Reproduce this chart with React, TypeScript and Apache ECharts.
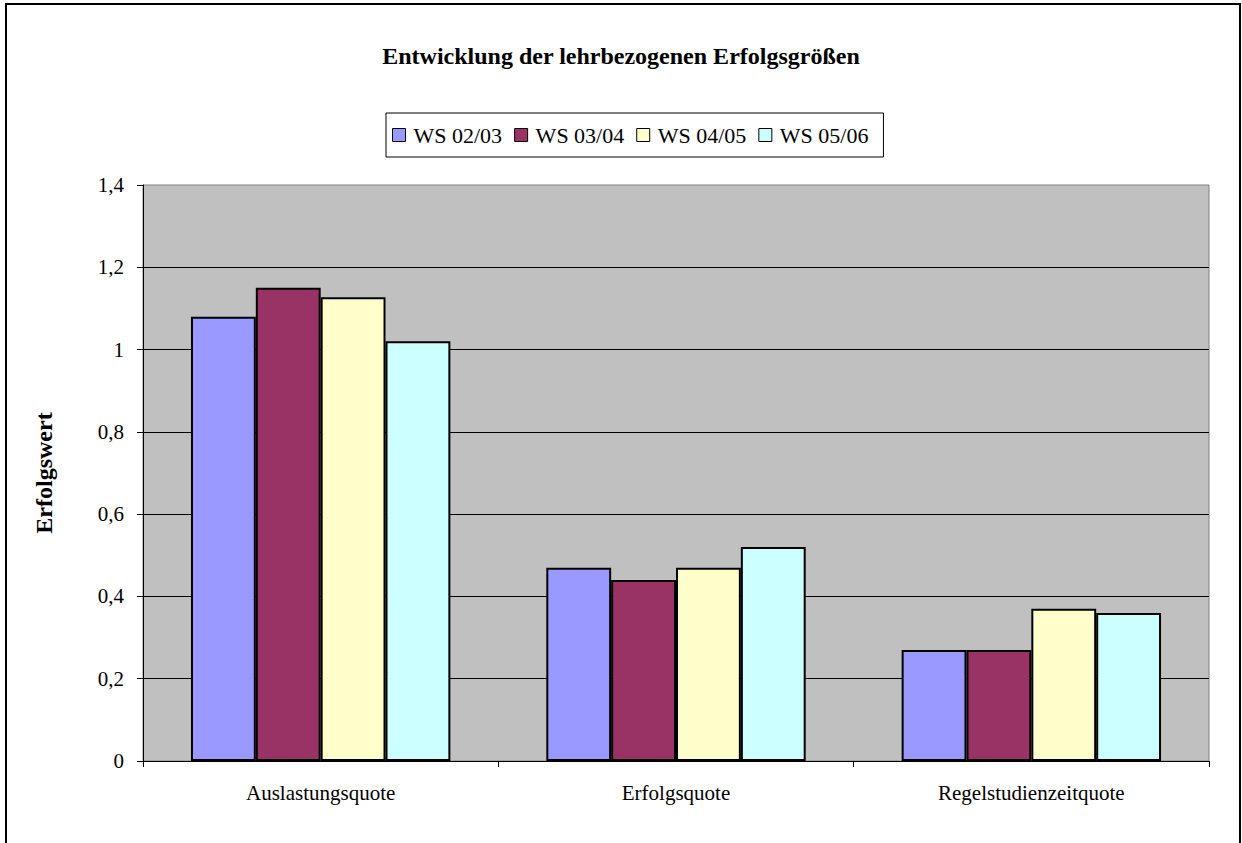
import React, { useEffect, useRef } from "react";
import * as echarts from "echarts";

const categories = ["Auslastungsquote", "Erfolgsquote", "Regelstudienzeitquote"];
const seriesNames = ["WS 02/03", "WS 03/04", "WS 04/05", "WS 05/06"];
const ws0203 = [1.08, 0.47, 0.27];
const ws0304 = [1.15, 0.44, 0.27];
const ws0405 = [1.127, 0.47, 0.37];
const ws0506 = [1.02, 0.52, 0.36];
const colors = ["#9999FF", "#993366", "#FFFFCC", "#CCFFFF"];
const yTicks = [0, 0.2, 0.4, 0.6, 0.8, 1, 1.2, 1.4];

const FONT = "Liberation Serif";

export default function App() {
  const ref = useRef<HTMLDivElement>(null);
  useEffect(() => {
    if (!ref.current) return;
    const chart = echarts.init(ref.current, undefined, { renderer: "svg" });
    const data = [ws0203, ws0304, ws0405, ws0506];
    chart.setOption({
      animation: false,
      backgroundColor: "#ffffff",
      textStyle: { fontFamily: FONT, color: "#000" },
      title: {
        text: "Entwicklung der lehrbezogenen Erfolgsgrößen",
        left: "center",
        top: 39,
        textStyle: { fontFamily: FONT, fontSize: 24, fontWeight: "bold", color: "#000" },
      },
      legend: {
        data: seriesNames,
        top: 113,
        left: 386,
        padding: [10, 15, 10, 6],
        borderColor: "#000",
        borderWidth: 1,
        itemWidth: 13,
        itemHeight: 13,
        itemGap: 12,
        icon: "rect",
        itemStyle: { borderColor: "#000", borderWidth: 1 },
        formatter: "{s|{name}}",
        textStyle: {
          fontFamily: FONT,
          fontSize: 22,
          lineHeight: 24,
          color: "#000",
          padding: [0, 0, 0, 3],
          rich: {
            s: { fontFamily: FONT, fontSize: 22, lineHeight: 24, color: "#000" },
          },
        },
      },
      graphic: [
        {
          type: "rect",
          shape: { x: 6, y: 4, width: 1234, height: 900 },
          style: { fill: "none", stroke: "#000", lineWidth: 2 },
          silent: true,
        },
      ],
      grid: {
        left: 143,
        right: 33,
        top: 185,
        bottom: 82,
        show: true,
        backgroundColor: "#C0C0C0",
        borderColor: "#808080",
        borderWidth: 1,
      },
      xAxis: {
        type: "category",
        data: categories,
        axisLine: { lineStyle: { color: "#000", width: 1 } },
        axisTick: { show: true, length: 6, lineStyle: { color: "#000" } },
        axisLabel: { fontFamily: FONT, fontSize: 21, color: "#000", margin: 21 },
      },
      yAxis: {
        type: "value",
        min: 0,
        max: yTicks[yTicks.length - 1],
        interval: 0.2,
        name: "Erfolgswert",
        nameLocation: "middle",
        nameRotate: 90,
        nameGap: 87,
        nameTextStyle: { fontFamily: FONT, fontSize: 24, fontWeight: "bold", color: "#000" },
        axisLine: { show: true, lineStyle: { color: "#000", width: 1 } },
        axisTick: { show: true, length: 6, lineStyle: { color: "#000" } },
        axisLabel: {
          fontFamily: FONT,
          fontSize: 21,
          color: "#000",
          margin: 19,
          formatter: (v: number) => String(Math.round(v * 10) / 10).replace(".", ","),
        },
        splitLine: { show: true, showMaxLine: false, lineStyle: { color: "#000", width: 1 } },
      },
      series: seriesNames.map((name, i) => ({
        name,
        type: "bar",
        data: data[i],
        barGap: "0%",
        barCategoryGap: "27%",
        itemStyle: { color: colors[i], borderColor: "#000", borderWidth: 2 },
      })),
    });
    return () => chart.dispose();
  }, []);
  return (
    <div
      ref={ref}
      style={{ position: "absolute", left: 0, top: 0, width: 1242, height: 843 }}
    />
  );
}
